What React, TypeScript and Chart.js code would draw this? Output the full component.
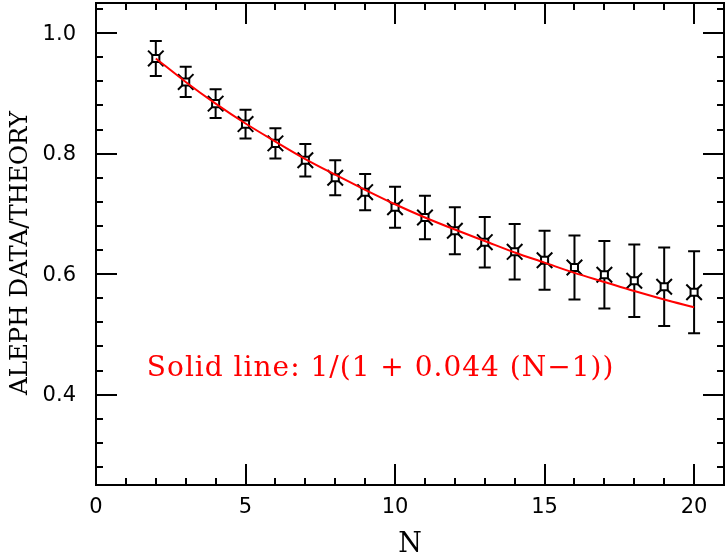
import React, { useEffect, useRef } from "react";
import { Chart, registerables } from "chart.js";

Chart.register(...registerables);

// ---- data ----
const N_VALUES = [2, 3, 4, 5, 6, 7, 8, 9, 10, 11, 12, 13, 14, 15, 16, 17, 18, 19, 20];
const DATA_VALUES = [0.958, 0.919, 0.883, 0.849, 0.817, 0.789, 0.760, 0.736, 0.711, 0.694, 0.672, 0.653, 0.637, 0.623, 0.611, 0.599, 0.589, 0.579, 0.570];
const DATA_ERRORS = [0.029, 0.025, 0.024, 0.024, 0.025, 0.027, 0.029, 0.030, 0.034, 0.036, 0.039, 0.042, 0.046, 0.049, 0.053, 0.056, 0.060, 0.065, 0.068];
const FIT_VALUES = [0.958, 0.919, 0.883, 0.850, 0.820, 0.791, 0.765, 0.740, 0.716, 0.694, 0.674, 0.655, 0.636, 0.619, 0.602, 0.587, 0.572, 0.558, 0.545];

const X_TICKS = [1, 2, 3, 4, 5, 6, 7, 8, 9, 10, 11, 12, 13, 14, 15, 16, 17, 18, 19, 20];
const X_LABEL_VALUES = [0, 5, 10, 15, 20];
const X_LABELS = ["0", "5", "10", "15", "20"];
const Y_TICKS = [0.28, 0.32, 0.36, 0.4, 0.44, 0.48, 0.52, 0.56, 0.6, 0.64, 0.68, 0.72, 0.76, 0.8, 0.84, 0.88, 0.92, 0.96, 1.0, 1.04];
const Y_LABEL_VALUES = [0.4, 0.6, 0.8, 1.0];
const Y_LABELS = ["0.4", "0.6", "0.8", "1.0"];

const X_TITLE = "N";
const Y_TITLE = "ALEPH DATA/THEORY";
const ANNOTATION_TEXT = "Solid line: 1/(1 + 0.044 (N\u22121))";
const ANNOTATION_X = 1.7;
const ANNOTATION_Y = 0.431;

const X_MIN = 0;
const X_MAX = 21;
const Y_MIN = 0.25;
const Y_MAX = 1.05;

const isMajorX = (v: number) => Math.abs(v / 5 - Math.round(v / 5)) < 1e-6;
const isMajorY = (v: number) => Math.abs(v / 0.2 - Math.round(v / 0.2)) < 1e-6;

const framePlugin = {
  id: "framePlugin",
  beforeDatasetsDraw(chart: any) {
    const ctx = chart.ctx;
    const xs = chart.scales.x;
    const ys = chart.scales.y;
    ctx.save();
    ctx.strokeStyle = "#000";
    ctx.lineWidth = 2;
    ctx.lineCap = "butt";
    for (let i = 0; i < N_VALUES.length; i++) {
      const x = xs.getPixelForValue(N_VALUES[i]);
      const yTop = ys.getPixelForValue(DATA_VALUES[i] + DATA_ERRORS[i]);
      const yBot = ys.getPixelForValue(DATA_VALUES[i] - DATA_ERRORS[i]);
      ctx.beginPath();
      ctx.moveTo(x, yTop);
      ctx.lineTo(x, yBot);
      ctx.moveTo(x - 6, yTop);
      ctx.lineTo(x + 6, yTop);
      ctx.moveTo(x - 6, yBot);
      ctx.lineTo(x + 6, yBot);
      ctx.stroke();
    }
    ctx.restore();
  },
  afterDraw(chart: any) {
    const ctx = chart.ctx;
    const xs = chart.scales.x;
    const ys = chart.scales.y;
    const { left, right, top, bottom } = chart.chartArea;
    ctx.save();
    ctx.strokeStyle = "#000";
    ctx.lineWidth = 2;
    ctx.strokeRect(left, top, right - left, bottom - top);

    ctx.beginPath();
    for (const v of X_TICKS) {
      const x = Math.round(xs.getPixelForValue(v));
      const len = isMajorX(v) ? 21 : 7;
      ctx.moveTo(x, bottom);
      ctx.lineTo(x, bottom - len);
      ctx.moveTo(x, top);
      ctx.lineTo(x, top + len);
    }
    for (const v of Y_TICKS) {
      const y = Math.round(ys.getPixelForValue(v));
      const len = isMajorY(v) ? 21 : 7;
      ctx.moveTo(left, y);
      ctx.lineTo(left + len, y);
      ctx.moveTo(right, y);
      ctx.lineTo(right - len, y);
    }
    ctx.stroke();

    ctx.fillStyle = "#000";
    ctx.font = '21px "DejaVu Sans"';
    ctx.textAlign = "center";
    ctx.textBaseline = "middle";
    X_LABEL_VALUES.forEach((v, i) => {
      ctx.fillText(X_LABELS[i], xs.getPixelForValue(v), bottom + 23);
    });
    ctx.textAlign = "right";
    Y_LABEL_VALUES.forEach((v, i) => {
      ctx.fillText(Y_LABELS[i], left - 20, ys.getPixelForValue(v) + 1);
    });

    // axis titles
    ctx.font = '27px "DejaVu Serif"';
    ctx.textAlign = "center";
    ctx.textBaseline = "alphabetic";
    ctx.fillText(X_TITLE, (left + right) / 2, 552);

    ctx.save();
    ctx.font = '24.5px "DejaVu Serif"';
    ctx.translate(27, (top + bottom) / 2 + 9);
    ctx.rotate(-Math.PI / 2);
    ctx.textAlign = "center";
    ctx.textBaseline = "alphabetic";
    ctx.fillText(Y_TITLE, 0, 0);
    ctx.restore();

    ctx.fillStyle = "#ff0000";
    ctx.font = '28px "DejaVu Serif"';
    (ctx as any).letterSpacing = "1px";
    ctx.textAlign = "left";
    ctx.textBaseline = "alphabetic";
    ctx.fillText(ANNOTATION_TEXT, xs.getPixelForValue(ANNOTATION_X), ys.getPixelForValue(ANNOTATION_Y));
    ctx.restore();
  },
};

export default function App() {
  const canvasRef = useRef<HTMLCanvasElement | null>(null);

  useEffect(() => {
    const canvas = canvasRef.current;
    if (!canvas) return;
    const chart = new Chart(canvas, {
      type: "scatter",
      data: {
        datasets: [
          {
            type: "line",
            label: "fit",
            data: N_VALUES.map((n, i) => ({ x: n, y: FIT_VALUES[i] })),
            borderColor: "#ff0000",
            borderWidth: 2,
            pointRadius: 0,
            fill: false,
            cubicInterpolationMode: "monotone",
            order: 0,
          } as any,
          {
            label: "data-square",
            data: N_VALUES.map((n, i) => ({ x: n, y: DATA_VALUES[i] })),
            pointStyle: "rect",
            pointRadius: 5,
            pointBorderWidth: 2,
            pointBorderColor: "#000",
            pointBackgroundColor: "#fff",
            showLine: false,
            order: 1,
          } as any,
          {
            label: "data-cross",
            data: N_VALUES.map((n, i) => ({ x: n, y: DATA_VALUES[i] })),
            pointStyle: "crossRot",
            pointRadius: 11,
            pointBorderWidth: 2,
            pointBorderColor: "#000",
            showLine: false,
            order: 2,
          } as any,
        ],
      },
      options: {
        animation: false,
        responsive: false,
        layout: { autoPadding: false, padding: { top: 3, right: 4, left: 0, bottom: 0 } },
        plugins: { legend: { display: false }, tooltip: { enabled: false } },
        scales: {
          x: {
            type: "linear",
            min: X_MIN,
            max: X_MAX,
            ticks: { display: false },
            grid: { display: false },
            border: { display: false },
            title: { display: false },
            afterFit: (scale: any) => {
              scale.height = 71;
            },
          },
          y: {
            type: "linear",
            min: Y_MIN,
            max: Y_MAX,
            ticks: { display: false },
            grid: { display: false },
            border: { display: false },
            title: { display: false },
            afterFit: (scale: any) => {
              scale.width = 96;
            },
          },
        },
      } as any,
      plugins: [framePlugin],
    });
    return () => chart.destroy();
  }, []);

  return (
    <div style={{ position: "absolute", left: 0, top: 0, width: 728, height: 556, background: "#fff" }}>
      <canvas ref={canvasRef} width={728} height={556} style={{ display: "block" }} />
    </div>
  );
}
